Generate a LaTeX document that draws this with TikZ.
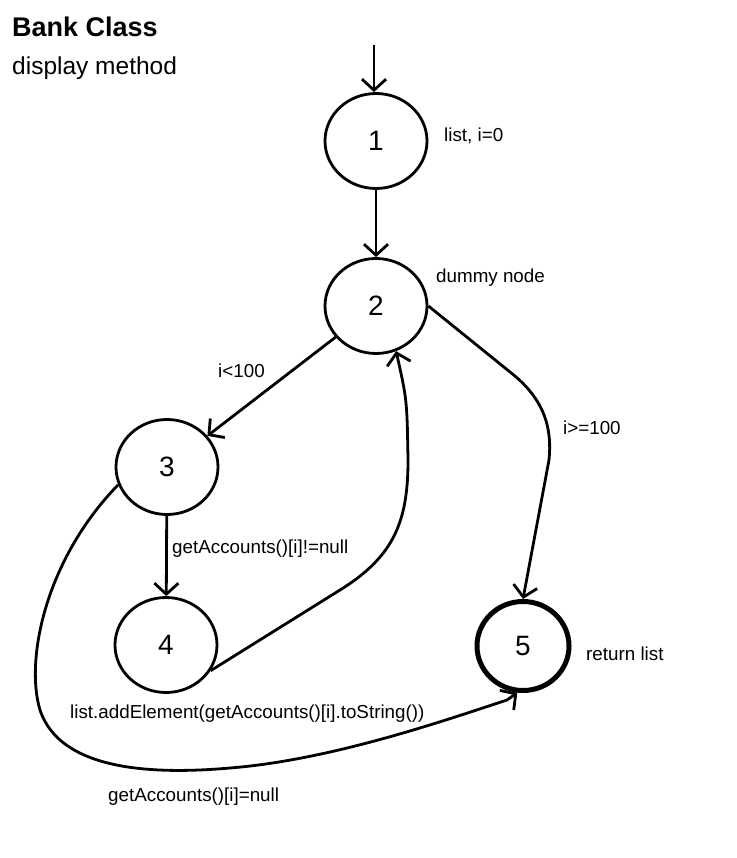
\documentclass[tikz,border=0pt]{standalone}
\usepackage{fontspec}
\setmainfont{Liberation Sans}
\usetikzlibrary{arrows.meta,shapes.geometric}
\begin{document}
\begin{tikzpicture}[x=1pt,y=-1pt,
  state/.style={draw, ellipse, line width=2.8pt, minimum width=102pt,
    minimum height=95pt, inner sep=0pt, font=\fontsize{28}{30}\selectfont},
  final/.style={state, line width=5pt, minimum width=92pt, minimum height=89pt},
  flow/.style={line width=2.8pt, -{Straight Barb[length=11pt,width=24pt]}},
  lbl/.style={anchor=base west, inner sep=0pt, font=\fontsize{18.8}{20}\selectfont},
]
\useasboundingbox (0,0) rectangle (736,858);

% heading
\node[anchor=base west, inner sep=0pt, font=\fontsize{27}{30}\selectfont\bfseries]
  (title) at (12,37) {Bank Class};
\node[anchor=base west, inner sep=0pt, font=\fontsize{24.5}{27}\selectfont]
  (subtitle) at (12,75) {display method};

% control flow graph nodes
\coordinate (start) at (374,45);
\node[state] (n1) at (376,141) {1};
\node[state] (n2) at (376,306) {2};
\node[state] (n3) at (167,467) {3};
\node[state] (n4) at (166,645) {4};
\node[final] (n5) at (523,646) {5};

% node annotations
\node[lbl] (l1) at (444,142) {list, i=0};
\node[lbl] (l2) at (436,282) {dummy node};
\node[lbl] (l5) at (586,660) {return list};

% edges
\draw[flow] (start) -- (start |- n1.north);
\draw[flow] (n1) -- (n2);
\draw[flow] (n2) -- (n3);
\draw[flow] (n3) -- (n4);
\draw[flow] (n2.east) -- (510,372) .. controls (546,400) and (552,430) .. (549,460)
  -- (n5.north);
\draw[flow] (n4.-30) -- (340,590) .. controls (395,556) and (408,520) .. (408,460)
  .. controls (407,400) .. (n2.-66);
\draw[flow] (n3.-160) .. controls (45,560) and (25,660) .. (40,710)
  .. controls (60,770) and (150,775) .. (230,768)
  .. controls (330,760) and (440,722) .. (507,700) -- (n5.-97);

% edge conditions
\node[lbl] (c23) at (218,377) {i<100};
\node[lbl] (c25) at (563,434) {i>=100};
\node[lbl] (c34) at (172,553) {getAccounts()[i]!=null};
\node[lbl] (c42) at (70,718) {list.addElement(getAccounts()[i].toString())};
\node[lbl] (c35) at (108,801) {getAccounts()[i]=null};
\end{tikzpicture}
\end{document}
